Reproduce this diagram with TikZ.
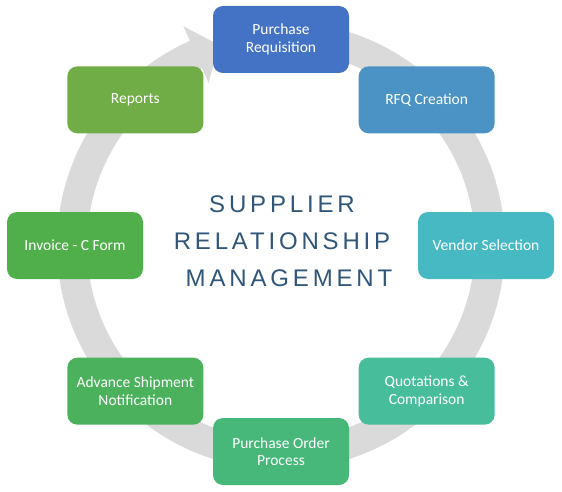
\documentclass[tikz,border=0pt]{standalone}
\usepackage{fontspec}
\setmainfont{Carlito}
\newfontfamily\titlefont[LetterSpace=16]{Liberation Sans}
\usetikzlibrary{calc}
\definecolor{ringgray}{HTML}{DADADA}
\definecolor{cPR}{HTML}{4472C4}
\definecolor{cRFQ}{HTML}{4A93C4}
\definecolor{cVS}{HTML}{46B9C2}
\definecolor{cQC}{HTML}{47BD9C}
\definecolor{cPO}{HTML}{47B87A}
\definecolor{cASN}{HTML}{4BB15D}
\definecolor{cIC}{HTML}{50AE4B}
\definecolor{cRE}{HTML}{70AD47}
\definecolor{titleblue}{HTML}{2F5579}
\tikzset{
  stagebox/.style={rounded corners=10pt, minimum width=136pt, minimum height=67pt,
    text=white, align=center, font=\fontsize{15.5pt}{17.5pt}\selectfont, inner sep=0pt},
}
\begin{document}
\begin{tikzpicture}[x=1pt,y=1pt]
\useasboundingbox (0,0) rectangle (562,491);
\coordinate (c) at (281,245.5);
% ring
\draw[ringgray, line width=30pt] ($(c)+(90:209)$) arc[start angle=90, end angle=-247, radius=209];
\fill[ringgray] ($(c)+(114:240)$) -- ($(c)+(114:178)$) -- (218.8,446.1) -- cycle;
% boxes
\node[stagebox, fill=cPR]  (pr)  at ($(c)+(90:206)$)  {Purchase\\Requisition};
\node[stagebox, fill=cRFQ] (rfq) at ($(c)+(45:206)$)  {RFQ Creation};
\node[stagebox, fill=cVS]  (vs)  at ($(c)+(0:205)$)   {Vendor Selection};
\node[stagebox, fill=cQC]  (qc)  at ($(c)+(-45:206)$) {Quotations \&\\Comparison};
\node[stagebox, fill=cPO]  (po)  at ($(c)+(-90:206)$) {Purchase Order\\Process};
\node[stagebox, fill=cASN] (asn) at ($(c)+(-135:206)$) {Advance Shipment\\Notification};
\node[stagebox, fill=cIC]  (ic)  at ($(c)+(180:206)$) {Invoice - C Form};
\node[stagebox, fill=cRE]  (re)  at ($(c)+(135:206)$) {Reports};
% title
\node[text=titleblue, align=center, font=\titlefont\fontsize{24pt}{37pt}\selectfont] (title) at (282,250)
  {SUPPLIER\\RELATIONSHIP\\\hspace*{14pt}MANAGEMENT};
\end{tikzpicture}
\end{document}
